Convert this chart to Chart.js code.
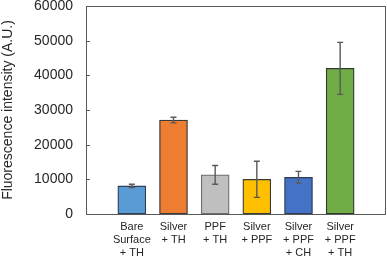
<!DOCTYPE html>
<html>
<head>
<meta charset="utf-8">
<script src="https://cdn.jsdelivr.net/npm/chart.js@4/dist/chart.umd.min.js"></script>
<style>
html,body{margin:0;padding:0;background:#fff;}
#wrap{width:387px;height:258px;position:relative;}
</style>
</head>
<body>
<div id="wrap"><canvas id="c" width="387" height="258"></canvas></div>
<script>
const categories = [
  ["Bare", "Surface", "+ TH"],
  ["Silver", "+ TH"],
  ["PPF", "+ TH"],
  ["Silver", "+ PPF"],
  ["Silver", "+ PPF", "+ CH"],
  ["Silver", "+ PPF", "+ TH"]
];
const values = [8100, 27100, 11300, 10000, 10600, 42000];
const errors = [500, 800, 2700, 5200, 1700, 7500];
const barColors = ["#5B9BD5", "#ED7D31", "#BFBFBF", "#FFC000", "#4472C4", "#70AD47"];
const borderColors = ["#2F3F55", "#3A3A3A", "#6E6E6E", "#3A3A3A", "#2F3A55", "#2F3A2F"];
const yTicks = [0, 10000, 20000, 30000, 40000, 50000, 60000];

const FONT = "'Liberation Sans', Arial, sans-serif";
const TEXT = "#262626";

const decor = {
  id: "decor",
  afterDatasetsDraw(chart) {
    const ctx = chart.ctx;
    const xs = chart.scales.x, ys = chart.scales.y;
    ctx.save();
    ctx.strokeStyle = "#595959";
    ctx.lineWidth = 1.4;
    values.forEach((v, i) => {
      const x = xs.getPixelForValue(i);
      const yt = ys.getPixelForValue(v + errors[i]);
      const yb = ys.getPixelForValue(v - errors[i]);
      ctx.beginPath();
      ctx.moveTo(x, yt); ctx.lineTo(x, yb);
      ctx.moveTo(x - 3, yt); ctx.lineTo(x + 3, yt);
      ctx.moveTo(x - 3, yb); ctx.lineTo(x + 3, yb);
      ctx.stroke();
    });
    const a = chart.chartArea;
    ctx.strokeStyle = "#595959";
    ctx.lineWidth = 1;
    ctx.strokeRect(Math.round(a.left) + 0.5, Math.round(a.top) + 0.5,
                   Math.round(a.right - a.left) - 1, Math.round(a.bottom - a.top));
    yTicks.forEach(t => {
      const y = Math.round(ys.getPixelForValue(t)) + 0.5;
      ctx.beginPath();
      ctx.moveTo(a.left, y); ctx.lineTo(a.left + 4, y);
      ctx.stroke();
    });
    ctx.restore();
  }
};

new Chart(document.getElementById("c"), {
  type: "bar",
  data: {
    datasets: [{
      data: values.map((v, i) => ({ x: i, y: v })),
      backgroundColor: barColors,
      borderColor: borderColors,
      borderWidth: 1.3,
      borderSkipped: false,
      barThickness: 28
    }]
  },
  options: {
    responsive: false,
    animation: false,
    devicePixelRatio: 1,
    layout: { padding: { top: 6, right: 1, left: 0, bottom: 0 } },
    plugins: { legend: { display: false }, tooltip: { enabled: false } },
    scales: {
      x: {
        type: "linear",
        offset: false,
        min: -1.1,
        max: 6.1,
        grid: { display: false, drawTicks: false, tickLength: 0 },
        border: { display: false },
        afterBuildTicks(scale) { scale.ticks = categories.map((c, i) => ({ value: i })); },
        afterFit(scale) { scale.height = 44; scale.paddingLeft = 0; scale.paddingRight = 0; },
        ticks: {
          autoSkip: false,
          maxRotation: 0,
          padding: 6,
          color: TEXT,
          font: { family: FONT, size: 11, lineHeight: 1.2 },
          callback: (v) => categories[v] || ""
        }
      },
      y: {
        min: 0,
        max: 60000,
        grid: { display: false, drawTicks: false, tickLength: 0 },
        border: { display: false },
        afterBuildTicks(scale) { scale.ticks = yTicks.map(v => ({ value: v })); },
        afterFit(scale) { scale.width = 86; scale.paddingTop = 0; scale.paddingBottom = 0; },
        ticks: {
          padding: 13,
          color: TEXT,
          font: { family: FONT, size: 14 },
          callback: (v) => String(v)
        },
        title: {
          display: true,
          text: "Fluorescence intensity (A.U.)",
          color: TEXT,
          font: { family: FONT, size: 14 },
          padding: { top: 0, bottom: 0 }
        }
      }
    }
  },
  plugins: [decor]
});
</script>
</body>
</html>
